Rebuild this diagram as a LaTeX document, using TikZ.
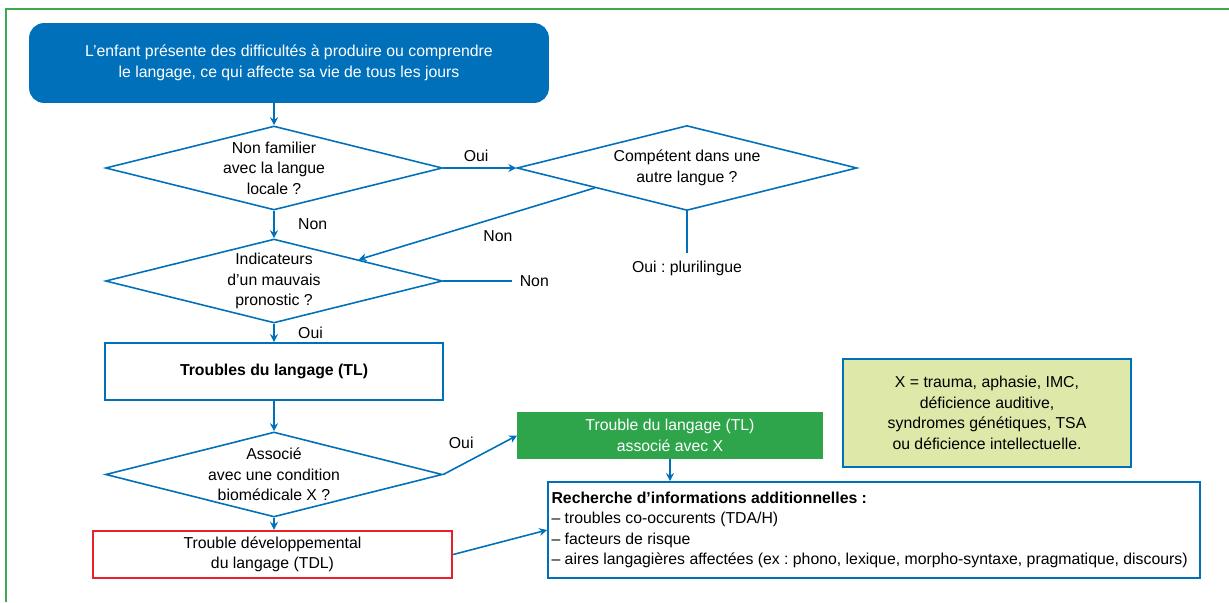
\documentclass[tikz,border=0pt]{standalone}
\usepackage{fontspec}
\setmainfont{Liberation Sans}
\frenchspacing
\usetikzlibrary{arrows.meta, positioning, shapes.geometric, calc}
\definecolor{cblue}{HTML}{0070BA}
\definecolor{cframe}{HTML}{3DAA4F}
\definecolor{cgreen}{HTML}{2EA44B}
\definecolor{cred}{HTML}{E8202A}
\definecolor{clime}{HTML}{DDE8A9}
\tikzset{
  every picture/.style={font=\fontsize{9}{11.7}\selectfont, line width=0.9pt},
  box/.style={draw=#1, align=center, inner sep=2pt, line width=1.1pt},
  box/.default=cblue,
  decision/.style={diamond, draw=cblue, aspect=4, inner xsep=-14pt, inner ysep=-10pt, align=center,
                   minimum width=6.74cm, minimum height=1.68cm},
  arrow/.style={-{Stealth[length=4.5pt, width=4.5pt]}, draw=cblue, line width=0.9pt},
  link/.style={draw=cblue, line width=0.9pt},
}

\begin{document}
\begin{tikzpicture}[x=0.02cm, y=-0.02cm]
  \useasboundingbox (0,0) rectangle (1229,602);
  \draw[draw=cframe, line width=1.4pt] (6,602) -- (6,9) -- (1229,9);
  % left column
  \node[box, fill=cblue, text=white, rounded corners=8pt, minimum width=10.36cm, minimum height=1.56cm]
    (start) at (289,63) {L’enfant présente des difficultés à produire ou comprendre\\le langage, ce qui affecte sa vie de tous les jours};
  \node[decision] (qlang) at (274,168) {Non familier\\avec la langue\\locale ?};
  \node[decision, minimum width=6.8cm, minimum height=1.7cm] (qcomp) at (687,168) {Compétent dans une\\autre langue ?};
  \node[anchor=north, inner sep=4pt] (plur) at (687,253) {Oui : plurilingue};
  \node[decision] (qprono) at (274,281) {Indicateurs\\d’un mauvais\\pronostic ?};
  \node[anchor=west, inner sep=4pt] (nonr) at (512,281) {Non};
  \node[box, minimum width=6.76cm, minimum height=1.14cm] (tl) at (274,371.5) {\textbf{Troubles du langage (TL)}};
  \node[decision, minimum height=1.7cm] (qbio) at (274,474.5) {Associé\\avec une condition\\biomédicale X ?};
  \node[box=cred, line width=1.4pt, minimum width=7.18cm, minimum height=0.94cm] (tdl) at (272.5,554.5) {Trouble développemental\\du langage (TDL)};
  % right column
  \node[box=cgreen, fill=cgreen, text=white, minimum width=6.08cm, minimum height=0.9cm] (tlx) at (670,435.5) {Trouble du langage (TL)\\associé avec X};
  \node[box, fill=clime, minimum width=5.76cm, minimum height=2.16cm] (legend) at (987,413) {X = trauma, aphasie, IMC,\\déficience auditive,\\syndromes génétiques, TSA\\ou déficience intellectuelle.};
  \node[box, text width=12.9cm, align=flush left, inner xsep=0.07cm, minimum height=1.92cm] (info) at (874,530)
    {\textbf{Recherche d’informations additionnelles :}\\– troubles co-occurents (TDA/H)\\– facteurs de risque\\– aires langagières affectées (ex : phono, lexique, morpho-syntaxe, pragmatique, discours)};
  % connectors
  \draw[arrow] (start.south -| qlang.north) -- (qlang.north);
  \draw[arrow] (qlang.east) -- node[above, pos=0.45] {Oui} (qcomp.west);
  \draw[arrow] (qlang.south) -- node[right=10pt] {Non} (qprono.north);
  \draw[link] (qcomp.south) -- (plur.north);
  \draw[arrow] ($(qcomp.west)!0.46!(qcomp.south)$) -- node[below right] {Non} ($(qprono.north)!0.5!(qprono.east)$);
  \draw[link] (qprono.east) -- (nonr.west);
  \draw[arrow] (qprono.south) -- node[right=10pt] {Oui} (tl.north);
  \draw[arrow] (tl.south) -- (qbio.north);
  \draw[arrow] (qbio.east) -- node[above left] {Oui} (tlx.west);
  \draw[arrow] (qbio.south) -- (qbio.south |- tdl.north);
  \draw[arrow] (tdl.east) -- (info.west);
  \draw[arrow] (tlx.south) -- (tlx.south |- info.north);
\end{tikzpicture}
\end{document}
